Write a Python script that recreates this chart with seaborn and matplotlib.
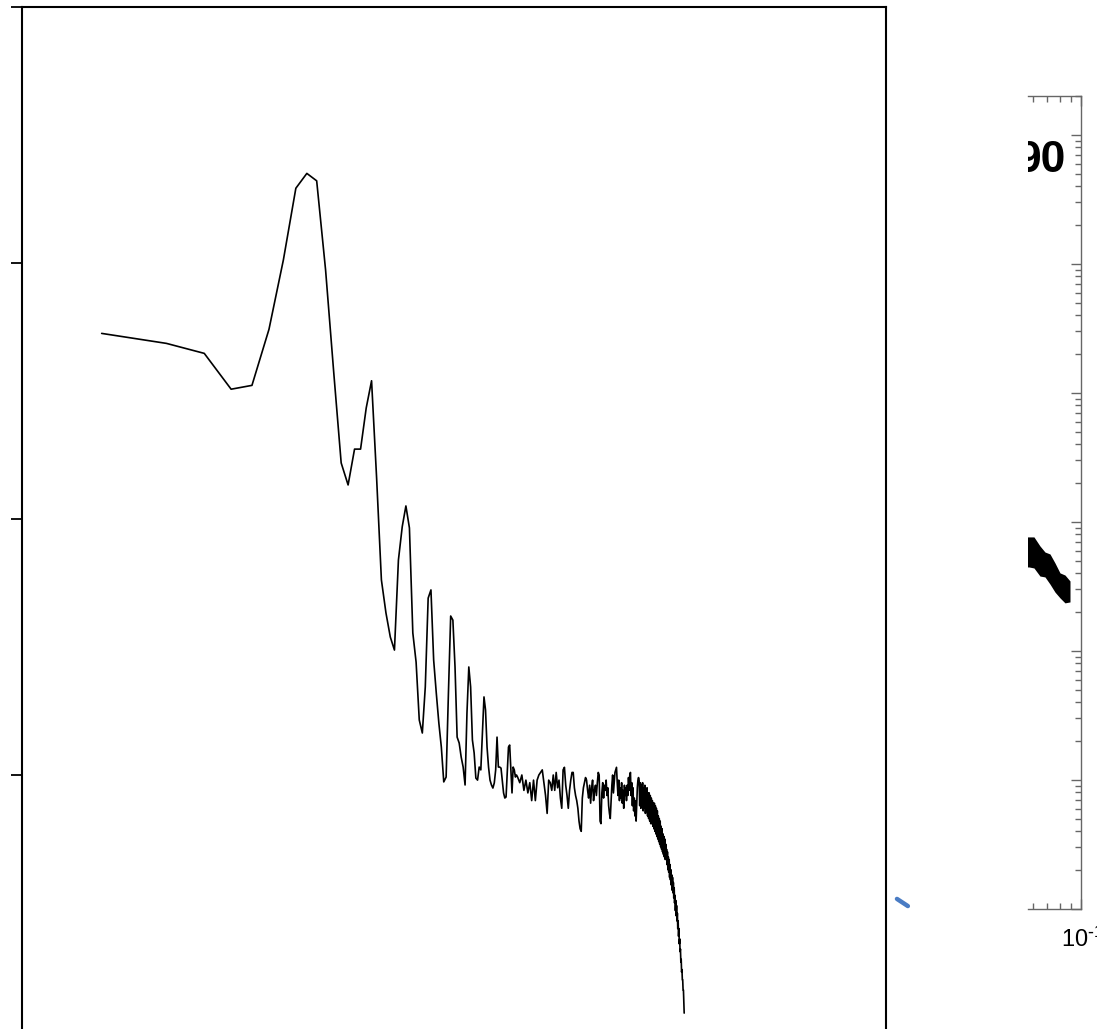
import matplotlib
matplotlib.use("Agg")
import matplotlib.pyplot as plt
import matplotlib.transforms as mtransforms
from matplotlib.ticker import LogLocator, NullFormatter
import numpy as np
import pandas as pd
import seaborn as sns

# ---- power spectrum: wavenumber index and log10 of spectral power ----
k_low = [1, 2, 3, 4, 5, 6, 7, 8, 9, 10,
         11, 12, 13, 14, 15, 16, 17, 18, 19, 20,
         21, 22, 23, 24, 25, 26, 27, 28, 29, 30,
         31, 32, 33, 34, 35, 36, 37, 38, 39, 40,
         41, 42, 43, 44, 45, 46, 47, 48, 49, 50,
         51, 52, 53, 54, 55, 56, 57, 58, 59, 60,
         61, 62, 63, 64, 65, 66, 67, 68, 69, 70,
         71, 72, 73, 74, 75, 76, 77, 78, 79, 80,
         81, 82, 83, 84, 85, 86]
log_power_low = [-0.275, -0.314, -0.353, -0.493, -0.478, -0.259, 0.012, 0.292, 0.350, 0.321,
                 -0.027, -0.426, -0.781, -0.867, -0.727, -0.727, -0.566, -0.460, -0.840, -1.238,
                 -1.367, -1.461, -1.512, -1.160, -1.030, -0.949, -1.035, -1.445, -1.559, -1.785,
                 -1.836, -1.656, -1.309, -1.277, -1.551, -1.680, -1.797, -1.891, -2.027, -2.008,
                 -1.680, -1.379, -1.395, -1.578, -1.852, -1.875, -1.930, -1.969, -2.039, -1.758,
                 -1.578, -1.656, -1.863, -1.914, -2.012, -2.020, -1.969, -1.980, -1.836, -1.695,
                 -1.746, -1.891, -1.969, -2.020, -2.039, -2.051, -2.031, -1.980, -1.852, -1.969,
                 -1.969, -1.973, -2.020, -2.070, -2.090, -2.086, -1.992, -1.891, -1.883, -1.980,
                 -2.070, -1.969, -1.980, -2.008, -2.000, -2.008]

k_high = [88, 90, 92, 94, 96, 98, 100, 102, 104, 106, 108, 110, 112, 114, 116, 118, 120, 122, 124, 126, 128, 130,
          132, 134, 136, 138, 140, 142, 144, 146, 148, 150, 152, 154, 156, 158, 160, 162, 164, 166, 168, 170,
          172, 174, 176, 178, 180, 182, 184, 186, 188, 190, 192, 194, 196, 198, 200, 202, 204, 206, 208, 210,
          212, 214, 216, 218, 220, 222, 224, 226, 228, 230, 232, 234, 236, 238, 240, 242, 244, 246, 248, 250,
          252, 254, 256, 258, 260, 262, 264, 266, 268, 270, 272, 274, 276, 278, 280, 282, 284, 286, 288, 290,
          292, 294, 296, 298, 300, 302, 304, 306, 308, 310, 312, 314, 316, 318, 320, 322, 324, 326, 328, 330,
          332, 334, 336, 338, 340, 342, 344, 346, 348, 350, 352, 354, 356, 358, 360, 362, 364, 366, 368, 370,
          372, 374, 376, 378, 380, 382, 384, 386, 388, 390, 392, 394, 396, 398, 400, 402, 404, 406, 408, 410,
          412, 414, 416, 418, 420, 422, 424, 426, 428, 430, 432, 434, 436, 438, 440, 442, 444, 446, 448, 450,
          452, 454, 456, 458, 460, 462, 464, 466, 468, 470, 472, 474, 476, 478, 480, 482, 484, 486, 488, 490,
          492, 494, 496, 498, 500, 502, 504, 506, 508, 510, 512]
log_power_high = [-2.03, -2.00, -2.06, -2.02, -2.07, -2.03, -2.10, -2.02, -2.10, -2.02, -2.00, -1.99, -1.98, -2.03, -2.08, -2.15, -2.02, -2.03, -2.06, -2.00, -2.06, -1.99,
                  -2.05, -2.02, -2.09, -2.13, -1.98, -1.97, -2.04, -2.08, -2.13, -2.06, -2.02, -1.99, -1.99, -2.05, -2.08, -2.10, -2.13, -2.18, -2.21, -2.22,
                  -2.09, -2.05, -2.03, -2.01, -2.02, -2.06, -2.09, -2.04, -2.11, -2.05, -2.02, -2.10, -2.06, -2.04, -2.08, -2.03, -1.99, -2.00, -2.18, -2.19,
                  -2.07, -2.03, -2.09, -2.04, -2.06, -2.02, -2.08, -2.05, -2.12, -2.15, -2.17, -2.10, -2.04, -2.00, -2.07, -2.03, -1.99, -1.98, -1.97, -2.03,
                  -2.08, -2.02, -2.10, -2.05, -2.09, -2.03, -2.11, -2.06, -2.13, -2.04, -2.08, -2.05, -2.10, -2.04, -2.08, -2.01, -2.06, -2.00, -1.99, -2.08,
                  -2.03, -2.12, -2.05, -2.14, -2.09, -2.16, -2.10, -2.18, -2.12, -2.05, -2.02, -2.01, -2.02, -2.12, -2.03, -2.13, -2.04, -2.12, -2.03, -2.14,
                  -2.05, -2.13, -2.04, -2.15, -2.06, -2.14, -2.05, -2.16, -2.07, -2.17, -2.07, -2.18, -2.08, -2.19, -2.09, -2.19, -2.10, -2.20, -2.11, -2.21,
                  -2.11, -2.22, -2.12, -2.23, -2.13, -2.24, -2.14, -2.25, -2.16, -2.26, -2.17, -2.27, -2.18, -2.28, -2.20, -2.29, -2.21, -2.30, -2.23, -2.31,
                  -2.24, -2.32, -2.25, -2.33, -2.27, -2.33, -2.29, -2.35, -2.30, -2.37, -2.32, -2.38, -2.33, -2.40, -2.35, -2.41, -2.37, -2.43, -2.39, -2.45,
                  -2.40, -2.46, -2.42, -2.48, -2.44, -2.50, -2.47, -2.53, -2.49, -2.55, -2.51, -2.57, -2.54, -2.60, -2.57, -2.63, -2.60, -2.66, -2.64, -2.69,
                  -2.68, -2.73, -2.72, -2.77, -2.76, -2.80, -2.80, -2.84, -2.84, -2.88, -2.93]

# short stray trace just past the right edge of the spectrum panel
trace_k = [5000, 5620]
trace_log_power = [-2.484, -2.512]

# ---- zoomed log-log panel: band of spectra near the 0.1 end ----
band_x = [0.050, 0.05747, 0.06065, 0.06466, 0.06823, 0.07199, 0.07596, 0.08012, 0.08452, 0.08918]
band_upper = [0.0766, 0.0766, 0.0766, 0.0652, 0.0585, 0.0565, 0.0481, 0.0403, 0.0388, 0.0349]
band_lower = [0.0448, 0.0448, 0.0440, 0.0381, 0.0375, 0.0330, 0.0286, 0.0258, 0.0236, 0.0240]
panel_label = "90"
x_tick_values = [0.1]
x_tick_labels = [r"$10^{\text{-}1}$"]

sns.set_theme(style="white")
plt.rcParams["font.family"] = ["Liberation Sans", "DejaVu Sans"]
plt.rcParams["mathtext.default"] = "regular"

W, H = 1097, 1029
fig = plt.figure(figsize=(W / 100, H / 100), dpi=100)
fig.patch.set_facecolor("white")

# main spectrum panel
ax = fig.add_axes([22 / W, (H - 1031) / H, 864 / W, 1024 / H])
spec = pd.DataFrame({"k": k_low + k_high, "log_power": log_power_low + log_power_high})
sns.lineplot(data=spec, x="k", y="log_power", ax=ax, color="black", lw=1.2,
             estimator=None, sort=False)
trace = pd.DataFrame({"k": trace_k, "log_power": trace_log_power})
sns.lineplot(data=trace, x="k", y="log_power", ax=ax, color="#4a7cc4", lw=3.2,
             estimator=None, sort=False)
ax.get_lines()[-1].set_clip_on(False)
ax.set_xscale("log")
ax.set_xlim(0.426, 4446)
ax.set_ylim(-3, 1)
ax.set_yticks([-3, -2, -1, 0, 1])
ax.set_xlabel("")
ax.set_ylabel("")
ax.tick_params(axis="y", which="major", direction="out", length=8, width=1.3,
               color="black", left=True, labelleft=False)
ax.tick_params(axis="x", which="both", bottom=False, top=False, labelbottom=False)
for s in ax.spines.values():
    s.set_color("black")
    s.set_linewidth(1.5)

# zoomed log-log panel
ax2 = fig.add_axes([1028 / W, (H - 909) / H, 52.7 / W, 813 / H])
ax2.fill_between(band_x, band_lower, band_upper, color="black", lw=0)
ax2.set_xscale("log")
ax2.set_yscale("log")
ax2.set_xlim(0.0569, 0.1)
ax2.set_ylim(1e-4, 10 ** 2.302)
ax2.set_xticks(x_tick_values, labels=x_tick_labels)
ax2.xaxis.set_minor_locator(LogLocator(base=10, subs=np.arange(2, 10), numticks=10))
ax2.xaxis.set_minor_formatter(NullFormatter())
ax2.yaxis.set_major_locator(LogLocator(base=10, numticks=20))
ax2.yaxis.set_minor_locator(LogLocator(base=10, subs=np.arange(2, 10), numticks=20))
ax2.yaxis.set_minor_formatter(NullFormatter())
ax2.spines["left"].set_visible(False)
for name in ("top", "bottom", "right"):
    ax2.spines[name].set_color("#666666")
    ax2.spines[name].set_linewidth(1.0)
ax2.tick_params(which="both", direction="in", top=True, bottom=True, right=True, left=False,
                labelleft=False, labelright=False, labeltop=False, labelbottom=True,
                color="#666666", width=1.0)
ax2.tick_params(which="major", length=7, labelsize=17, pad=13, labelcolor="black")
ax2.tick_params(which="minor", length=4)
nudge = mtransforms.ScaledTranslation(2 / 100, 0, fig.dpi_scale_trans)
for lbl in ax2.get_xticklabels():
    lbl.set_transform(lbl.get_transform() + nudge)
ax2.text((1066 - 1028) / 52.7, (909 - 172) / 813, panel_label, transform=ax2.transAxes,
         ha="right", va="baseline", fontsize=32, fontweight="bold",
         family="Liberation Sans", color="black", clip_on=True)

fig.savefig("out.png", dpi=100)
